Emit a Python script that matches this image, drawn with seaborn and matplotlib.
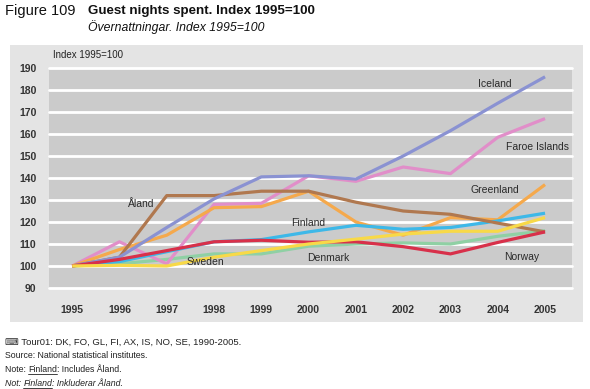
import matplotlib
matplotlib.use("Agg")
import matplotlib.pyplot as plt
import seaborn as sns
import pandas as pd
from matplotlib.patches import Rectangle

years = [1995, 1996, 1997, 1998, 1999, 2000, 2001, 2002, 2003, 2004, 2005]
denmark = [100, 101, 103, 105.5, 105.5, 109, 110, 110.5, 110, 113.5, 116]
faroe = [100, 111, 101, 128, 128.5, 141, 138.5, 145, 142, 158.5, 167]
greenland = [100, 107.5, 114, 126.5, 127, 134, 120, 114, 122, 121, 137]
finland = [100, 102, 106.5, 111, 112, 115.5, 118.5, 116.7, 117.5, 120.5, 124]
aland = [100, 104, 132, 132, 134, 134, 129, 125, 123.5, 119.5, 115.5]
iceland = [100, 104, 117.5, 130.5, 140.5, 141, 139.5, 150, 161.5, 174, 186]
norway = [100, 103, 107, 111, 111.7, 110.8, 111, 108.8, 105.5, 110.7, 115.5]
sweden = [100, 100.3, 100, 104, 107, 110, 112.2, 114.5, 115.8, 115.8, 122]

series_names = ["Denmark", "Faroe Islands", "Greenland", "Finland", "Åland",
                "Iceland", "Norway", "Sweden"]
series_values = [denmark, faroe, greenland, finland, aland, iceland, norway, sweden]
colors = ["#8fd0a4", "#e18ec9", "#f5a94c", "#3db8e8", "#b0784f",
          "#8a92d2", "#d8304a", "#f8d948"]

y_ticks = [90, 100, 110, 120, 130, 140, 150, 160, 170, 180, 190]

rows = []
for name, vals in zip(series_names, series_values):
    for yr, v in zip(years, vals):
        rows.append({"year": yr, "value": v, "series": name})
df = pd.DataFrame(rows)

sns.set_style("white")
plt.rcParams["font.family"] = ["Liberation Sans", "DejaVu Sans"]

W, H = 590, 389
fig = plt.figure(figsize=(W / 100, H / 100), dpi=100)
fig.patch.set_facecolor("white")

# outer light-gray panel
fig.patches.append(Rectangle((10 / W, 1 - 322 / H), 573 / W, 277 / H,
                             transform=fig.transFigure, facecolor="#e4e4e4",
                             edgecolor="none", zorder=-5))

ax = fig.add_axes([49 / W, 1 - 288 / H, 523 / W, 220 / H])
ax.set_zorder(2)
ax.set_facecolor("#cbcbcb")
for s in ax.spines.values():
    s.set_visible(False)

for t in y_ticks:
    ax.axhline(t, color="white", lw=2.0, zorder=1, clip_on=False)

sns.lineplot(data=df, x="year", y="value", hue="series", palette=colors,
             hue_order=series_names, lw=2.3, ax=ax, legend=False, zorder=3,
             solid_capstyle="butt")

ax.set_xlim(1994.51, 2005.57)
ax.set_ylim(90, 190)
ax.set_xticks(years)
ax.set_xticklabels([str(y) for y in years])
ax.set_yticks(y_ticks)
ax.set_xlabel("")
ax.set_ylabel("")
ax.tick_params(axis="both", length=0, labelsize=7.5, colors="#333333")
ax.tick_params(axis="x", pad=12)
ax.tick_params(axis="y", pad=9)
for lab in ax.get_xticklabels() + ax.get_yticklabels():
    lab.set_fontweight("bold")

labels = [
    ("Iceland", 2003.94, 182.6),
    ("Faroe Islands", 2004.83, 154.3),
    ("Greenland", 2003.94, 134.7),
    ("Norway", 2004.51, 104.1),
    ("Denmark", 2000.41, 103.7),
    ("Finland", 1999.99, 119.6),
    ("Sweden", 1997.81, 101.8),
    ("Åland", 1996.46, 128.3),
]
for txt, x, y in labels:
    ax.text(x, y, txt, ha="center", va="center", fontsize=7.5,
            color="#2a2a2a", zorder=5)

fig.text(53 / W, 1 - 55 / H, "Index 1995=100", fontsize=7, color="#222222",
         ha="left", va="center")

fig.text(5 / W, 1 - 11 / H, "Figure 109", fontsize=10.5, color="#111111",
         ha="left", va="center")
fig.text(88 / W, 1 - 11 / H, "Guest nights spent. Index 1995=100", fontsize=9.6,
         fontweight="bold", color="#111111", ha="left", va="center")
fig.text(88 / W, 1 - 27 / H, "Övernattningar. Index 1995=100", fontsize=8.8,
         style="italic", color="#111111", ha="left", va="center")

fs = 6.3
fig.text(5 / W, 1 - 342 / H, "⌨ Tour01: DK, FO, GL, FI, AX, IS, NO, SE, 1990-2005.",
         fontsize=6.8, color="#222222", ha="left", va="center")
fig.text(5 / W, 1 - 356 / H, "Source: National statistical institutes.",
         fontsize=fs, color="#222222", ha="left", va="center")

renderer = fig.canvas.get_renderer()


def underlined_line(y_px, parts, italic=False):
    x = 5 / W
    for txt, ul in parts:
        t = fig.text(x, 1 - y_px / H, txt, fontsize=fs, color="#222222",
                     ha="left", va="center",
                     style="italic" if italic else "normal")
        bb = t.get_window_extent(renderer=renderer).transformed(
            fig.transFigure.inverted())
        if ul:
            yy = bb.y0 + 1.0 / H
            fig.add_artist(plt.Line2D([bb.x0, bb.x1], [yy, yy],
                                      transform=fig.transFigure,
                                      color="#222222", lw=0.6))
        x = bb.x1


underlined_line(370, [("Note: ", False), ("Finland", True), (": Includes Åland.", False)])
underlined_line(384, [("Not: ", False), ("Finland", True), (": Inkluderar Åland.", False)], italic=True)

fig.savefig("out.png", dpi=100)
